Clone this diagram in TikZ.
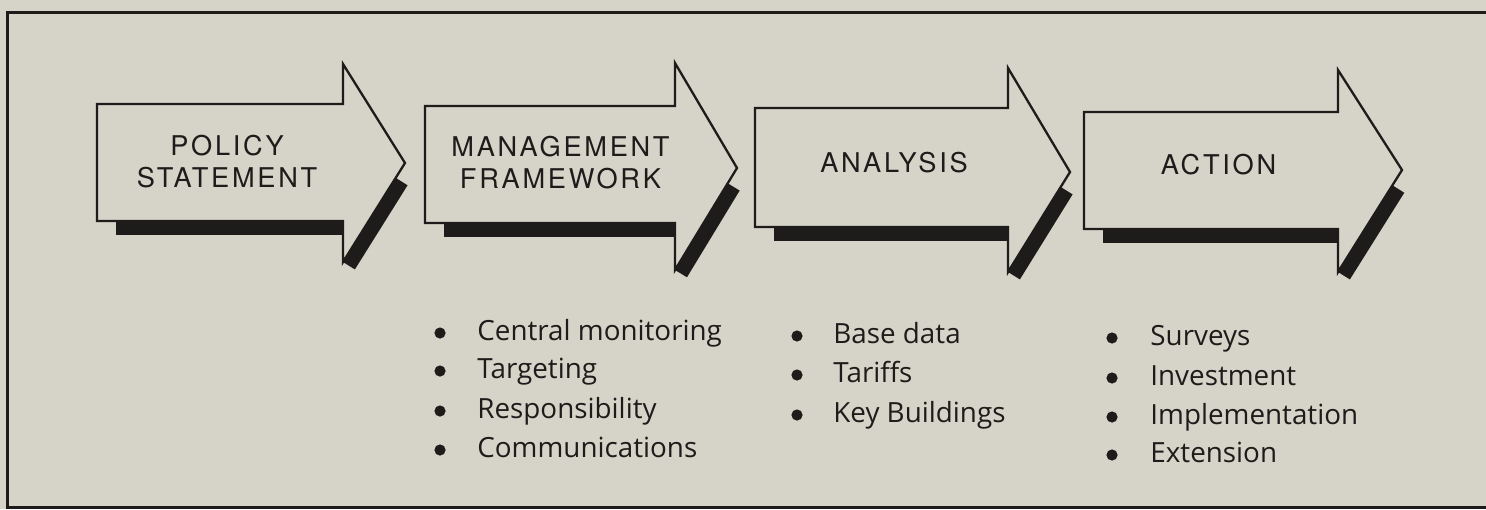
\documentclass[tikz,border=0pt]{standalone}
\usepackage{fontspec}
\setmainfont{Open Sans}[Ligatures=NoCommon]
\newfontfamily\capsfont[LetterSpace=10]{TeX Gyre Heros}
\usetikzlibrary{calc}

\definecolor{paper}{RGB}{214,211,200}
\definecolor{ink}{RGB}{30,28,26}

% block arrow with a drop shadow under its lower edges
% #1 name, #2 left, #3 body top, #4 body bottom, #5 head base x,
% #6 head top, #7 tip x, #8 tip y, #9 head bottom
\newcommand{\blockarrow}[9]{%
  \coordinate (#1-tip) at (#7,#8);
  \coordinate (#1-hb) at (#5,#9);
  \coordinate (#1-s) at ($(#1-tip)!0.15!(#1-hb)$);
  % shadow: bar under the body and strip along the lower head edge
  \fill[ink] (#2+19,#4-4) rectangle (#5,#4+14);
  \fill[ink] (#1-s) -- (#1-hb) -- ($(#1-hb)!7pt!-90:(#1-s)$)
     -- ($(#1-s)!7pt!90:(#1-hb)$) -- cycle;
  % the arrow itself
  \draw[arrowline] (#2,#3) -- (#5,#3) -- (#5,#6) -- (#1-tip)
     -- (#1-hb) -- (#5,#4) -- (#2,#4) -- cycle;
}

\tikzset{
  arrowline/.style={draw=ink, fill=paper, line width=1.15pt, line join=miter},
  steplabel/.style={font=\capsfont\fontsize{13.6}{15.6}\selectfont, text=ink,
    align=center, inner sep=0pt, anchor=center},
  itemtext/.style={font=\fontsize{13.9}{16}\selectfont, text=ink,
    inner sep=0pt, anchor=base west},
  dot/.style={circle, fill=ink, inner sep=0pt, minimum size=5.6pt},
  frameline/.style={draw=ink, line width=1.5pt}
}

\begin{document}
\begin{tikzpicture}[x=0.5pt, y=-0.5pt]
  \fill[paper] (0,0) rectangle (1486,509);
  \useasboundingbox (0,0) rectangle (1486,509);

  % page frame
  \draw[frameline] (1486,12) -- (7,12) -- (7,507) -- (1486,507);

  % the four stages
  \blockarrow{a1}{97}{104}{221}{343}{64}{405}{163}{262}
  \blockarrow{a2}{425}{106}{223}{675}{63}{737}{168}{270}
  \blockarrow{a3}{755}{108}{227}{1008}{68}{1070}{172}{272}
  \blockarrow{a4}{1084}{112}{229}{1338}{70}{1402}{170}{272}

  \node[steplabel] (policy) at (227,161.5) {POLICY\\STATEMENT};
  \node[steplabel] (mgmt) at (560.5,162.5) {MANAGEMENT\\FRAMEWORK};
  \node[steplabel] (analysis) at (894,162.5) {ANALYSIS};
  \node[steplabel] (action) at (1218.5,165) {ACTION};

  % management framework items
  \node[dot] (m1) at (440,333) {};
  \node[itemtext] (m1t) at (477,340) {Central monitoring};
  \node[dot] (m2) at (440,371) {};
  \node[itemtext] (m2t) at (477,378) {Targeting};
  \node[dot] (m3) at (440,411) {};
  \node[itemtext] (m3t) at (477,418) {Responsibility};
  \node[dot] (m4) at (440,450) {};
  \node[itemtext] (m4t) at (477,457) {Communications};

  % analysis items
  \node[dot] (n1) at (797,336) {};
  \node[itemtext] (n1t) at (833,343) {Base data};
  \node[dot] (n2) at (797,375) {};
  \node[itemtext] (n2t) at (833,382) {Tariffs};
  \node[dot] (n3) at (797,415) {};
  \node[itemtext] (n3t) at (833,422) {Key Buildings};

  % action items
  \node[dot] (c1) at (1112,338) {};
  \node[itemtext] (c1t) at (1150,345) {Surveys};
  \node[dot] (c2) at (1112,378) {};
  \node[itemtext] (c2t) at (1150,385) {Investment};
  \node[dot] (c3) at (1112,417) {};
  \node[itemtext] (c3t) at (1150,424) {Implementation};
  \node[dot] (c4) at (1112,455) {};
  \node[itemtext] (c4t) at (1150,462) {Extension};
\end{tikzpicture}
\end{document}
